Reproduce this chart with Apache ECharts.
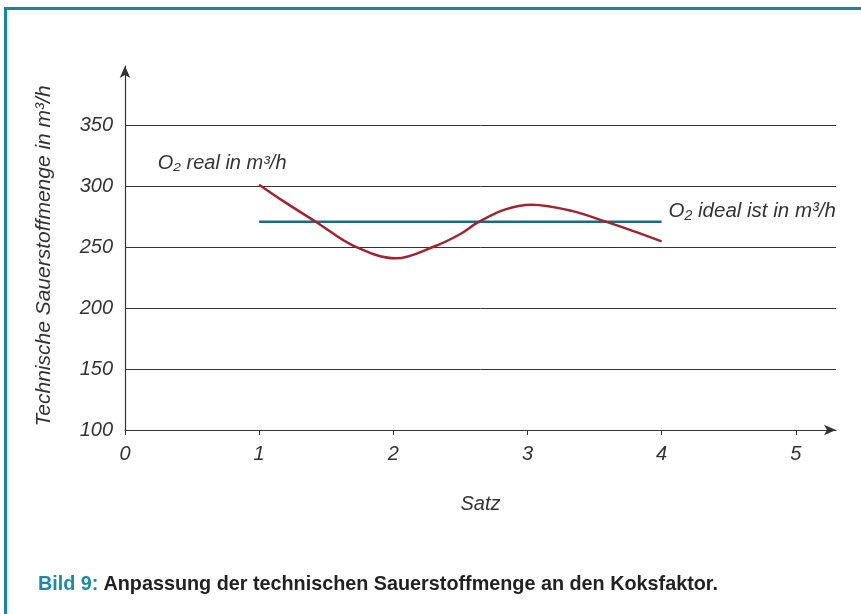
<!DOCTYPE html>
<html><head><meta charset="utf-8">
<script src="https://cdn.jsdelivr.net/npm/echarts@6/dist/echarts.min.js"></script>
<style>html,body{margin:0;padding:0;background:#fff}#c{width:861px;height:614px}</style>
</head><body><div id="c"></div>
<script>
var realX = [1, 1.18, 1.43, 1.7, 2.02, 2.3, 2.5, 2.63, 2.83, 3.03, 3.33, 3.6, 3.8, 4];
var realY = [301.5, 288, 270.5, 251.5, 241, 250.5, 261, 270.5, 281, 285, 280, 270.5, 263, 255];
var idealX = [1, 4];
var idealY = [271, 271];
var xTicks = [0, 1, 2, 3, 4, 5];
var yTicks = [100, 150, 200, 250, 300, 350];
var realName = 'O₂ real in m³/h';
var idealName = 'O₂ ideal ist in m³/h';
var xName = 'Satz';
var yName = 'Technische Sauerstoffmenge in m³/h';
var captionLead = 'Bild 9:';
var captionText = 'Anpassung der technischen Sauerstoffmenge an den Koksfaktor.';

var FONT = '"Liberation Sans", Arial, sans-serif';
var txt = {fontFamily: FONT, fontStyle: 'italic', fontSize: 20, color: '#333'};

var realData = realX.map(function (x, i) { return [x, realY[i]]; });
var idealData = idealX.map(function (x, i) { return [x, idealY[i]]; });

var chart = echarts.init(document.getElementById('c'), null, {renderer: 'canvas'});
chart.setOption({
  animation: false,
  backgroundColor: '#fff',
  grid: {left: 125, right: 25, top: 66, bottom: 184, containLabel: false},
  xAxis: {
    type: 'value', min: 0, max: 5.3, interval: 1,
    name: xName, nameLocation: 'middle', nameGap: 64,
    nameTextStyle: txt,
    axisLine: {show: true, lineStyle: {color: '#333', width: 1.2}, symbol: ['none', 'arrow'], symbolSize: [8, 12]},
    axisTick: {show: true, length: 5, lineStyle: {color: '#333'}, customValues: xTicks},
    axisLabel: Object.assign({margin: 14, customValues: xTicks}, txt),
    splitLine: {show: false}
  },
  yAxis: {
    type: 'value', min: 100, max: 399, interval: 50,
    name: yName, nameLocation: 'middle', nameGap: 70, nameRotate: 90,
    nameTextStyle: Object.assign({}, txt, {fontSize: 21, padding: [0, 16, 0, 0]}),
    axisLine: {show: true, lineStyle: {color: '#333', width: 1.2}, symbol: ['none', 'arrow'], symbolSize: [8, 12]},
    axisTick: {show: false},
    axisLabel: Object.assign({margin: 12, customValues: yTicks}, txt),
    splitLine: {show: true, showMaxLine: false, lineStyle: {color: '#333', width: 1}}
  },
  series: [
    {
      type: 'line', data: realData, smooth: 0.35, showSymbol: false, symbol: 'none',
      lineStyle: {color: '#a3232e', width: 2.5}, z: 3,
      markPoint: {
        symbol: 'circle', symbolSize: 0, silent: true,
        data: [{coord: realData[0]}],
        label: Object.assign({show: true, position: 'inside', offset: [-37, -21], formatter: realName}, txt)
      }
    },
    {
      type: 'line', data: idealData, showSymbol: false, symbol: 'none',
      lineStyle: {color: '#1b6a88', width: 2.5}, z: 2,
      endLabel: Object.assign({show: true, distance: 7, offset: [0, -11], formatter: idealName}, txt, {fontSize: 20.5})
    }
  ],
  title: {
    left: 33, top: 570,
    text: '{a|' + captionLead + '} {b|' + captionText + '}',
    textStyle: {
      rich: {
        a: {fontFamily: '"Liberation Sans Narrow", "Liberation Sans", sans-serif', fontSize: 19.8, color: '#1a8aa6', fontWeight: 'bold'},
        b: {fontFamily: '"Liberation Sans Narrow", "Liberation Sans", sans-serif', fontSize: 19.8, color: '#222', fontWeight: 'bold'}
      }
    }
  },
  graphic: [{
    type: 'rect', silent: true,
    shape: {x: 5.5, y: 8.5, width: 900, height: 700},
    style: {fill: 'none', stroke: '#14869e', lineWidth: 3}
  }]
});
</script></body></html>
